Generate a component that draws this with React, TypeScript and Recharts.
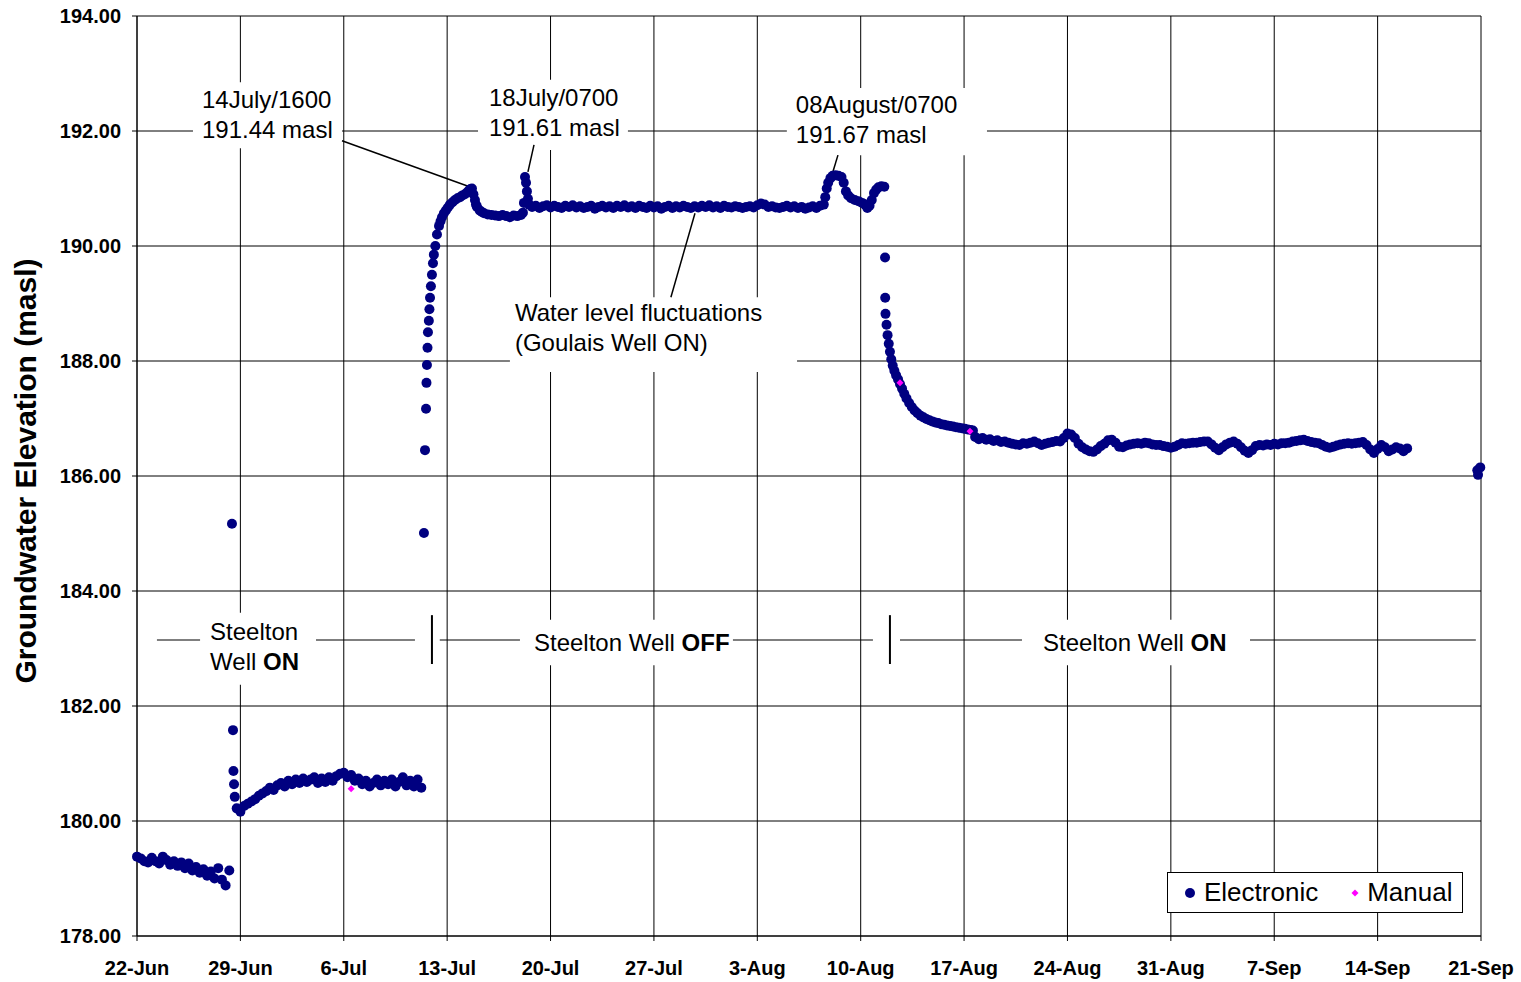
import React from 'react';
import { ScatterChart, Scatter, XAxis, YAxis, CartesianGrid, ReferenceArea, ReferenceLine } from 'recharts';

const FONT = '"Liberation Sans", Arial, Helvetica, sans-serif';

// x = days since 22-Jun
const xTicks = [0, 7, 14, 21, 28, 35, 42, 49, 56, 63, 70, 77, 84, 91];
const xTickLabels = ['22-Jun', '29-Jun', '6-Jul', '13-Jul', '20-Jul', '27-Jul', '3-Aug', '10-Aug', '17-Aug', '24-Aug', '31-Aug', '7-Sep', '14-Sep', '21-Sep'];
const yTicks = [178, 180, 182, 184, 186, 188, 190, 192, 194];

// logger readings, one every 6 hours
const STEP = 0.25;

const lateJune = {
  start: 0,
  values: [179.38, 179.35, 179.30, 179.28, 179.36, 179.30, 179.26, 179.38, 179.32, 179.24,
    179.30, 179.22, 179.28, 179.18, 179.26, 179.14, 179.20, 179.10, 179.16, 179.05,
    179.12, 179.00, 179.18, 178.98, 178.88, 179.14],
};

const earlyJuly = {
  start: 6.75,
  values: [180.22, 180.16, 180.26, 180.30, 180.34, 180.38, 180.44, 180.48, 180.52, 180.58,
    180.54, 180.62, 180.66, 180.60, 180.70, 180.64, 180.72, 180.66, 180.74, 180.68,
    180.72, 180.76, 180.66, 180.74, 180.68, 180.76, 180.70, 180.78, 180.82, 180.84,
    180.76, 180.80, 180.70, 180.74, 180.64, 180.70, 180.60, 180.66, 180.72, 180.62,
    180.70, 180.64, 180.72, 180.60, 180.68, 180.76, 180.62, 180.70, 180.60, 180.72,
    180.58],
};

const lateJuly = {
  start: 26.75,
  values: [190.68, 190.70, 190.66, 190.69, 190.71, 190.67, 190.70, 190.68, 190.66, 190.70,
    190.68, 190.71, 190.67, 190.69, 190.66, 190.68, 190.70, 190.65, 190.68, 190.70,
    190.67, 190.69, 190.66, 190.70, 190.68, 190.71, 190.67, 190.69, 190.66, 190.70,
    190.68, 190.66, 190.70, 190.67, 190.69, 190.65, 190.68, 190.70, 190.66, 190.69,
    190.67, 190.70, 190.68, 190.66, 190.69, 190.67, 190.70, 190.68, 190.71, 190.67,
    190.69, 190.66, 190.70, 190.68, 190.67, 190.69, 190.68, 190.66, 190.68, 190.69,
    190.67, 190.71, 190.74, 190.72, 190.68, 190.69, 190.67, 190.66, 190.68, 190.70,
    190.67, 190.69, 190.66, 190.68, 190.65, 190.67, 190.69, 190.66, 190.70, 190.72],
};

const lateAugust = {
  start: 56.75,
  values: [186.68, 186.64, 186.66, 186.63, 186.64, 186.61, 186.62, 186.59,
    186.60, 186.58, 186.56, 186.55, 186.54, 186.57, 186.56, 186.58,
    186.60, 186.57, 186.54, 186.56, 186.58, 186.59, 186.61, 186.60,
    186.66, 186.74, 186.72, 186.66, 186.56, 186.50, 186.46, 186.43,
    186.42, 186.46, 186.52, 186.56, 186.62, 186.63, 186.58, 186.51,
    186.50, 186.53, 186.55, 186.56, 186.57, 186.56, 186.58, 186.57,
    186.55, 186.54, 186.54, 186.52, 186.51, 186.49, 186.51, 186.54,
    186.57, 186.56, 186.57, 186.58, 186.58, 186.59, 186.60, 186.60,
    186.55, 186.49, 186.45, 186.50, 186.55, 186.58, 186.60, 186.56,
    186.50, 186.44, 186.40, 186.45, 186.52, 186.54, 186.53, 186.55,
    186.54, 186.56, 186.55, 186.57, 186.57, 186.58, 186.60, 186.61,
    186.62, 186.63, 186.61, 186.59, 186.58, 186.57, 186.54, 186.51,
    186.49, 186.51, 186.53, 186.55, 186.56, 186.57, 186.56, 186.57,
    186.58, 186.59, 186.54, 186.46, 186.40, 186.47, 186.54, 186.50,
    186.43, 186.46, 186.50, 186.48, 186.43, 186.48],
};

// irregular stretches: [day, elevation]
const shutdownJune: [number, number][] = [[6.43, 185.17], [6.5, 181.58], [6.53, 180.87], [6.57, 180.64], [6.62, 180.42]];

const recoveryJuly: [number, number][] = [
  [19.43, 185.01], [19.5, 186.45], [19.57, 187.17], [19.6, 187.62], [19.63, 187.93], [19.67, 188.23],
  [19.7, 188.5], [19.76, 188.7], [19.8, 188.9], [19.84, 189.1], [19.9, 189.3], [19.97, 189.5],
  [20.04, 189.7], [20.1, 189.85], [20.2, 190.0], [20.31, 190.2], [20.45, 190.35], [20.55, 190.43],
  [20.65, 190.5], [20.78, 190.57], [20.92, 190.62], [21.05, 190.67], [21.19, 190.72], [21.36, 190.76],
  [21.53, 190.8], [21.7, 190.83], [21.87, 190.85], [22.03, 190.88], [22.2, 190.9], [22.34, 190.93],
  [22.48, 190.97], [22.58, 190.99], [22.68, 191.0], [22.78, 190.9], [22.88, 190.8], [22.95, 190.72],
  [23.02, 190.68], [23.2, 190.62], [23.35, 190.59], [23.5, 190.57], [23.75, 190.55], [24.0, 190.54],
  [24.25, 190.53], [24.5, 190.52], [24.75, 190.54], [25.0, 190.52], [25.25, 190.5], [25.5, 190.53],
  [25.75, 190.52], [26.0, 190.54], [26.13, 190.58], [26.2, 190.75], [26.27, 191.2], [26.34, 191.1],
  [26.4, 190.95], [26.47, 190.82], [26.55, 190.72],
];

const peakAugust: [number, number][] = [
  [46.6, 190.85], [46.7, 191.0], [46.8, 191.1], [46.95, 191.18], [47.1, 191.22], [47.3, 191.23],
  [47.5, 191.22], [47.7, 191.2], [47.85, 191.1], [48.0, 190.95], [48.15, 190.88], [48.35, 190.83],
  [48.6, 190.8], [48.85, 190.78], [49.1, 190.75], [49.3, 190.72], [49.45, 190.66], [49.6, 190.7],
  [49.75, 190.8], [49.9, 190.92], [50.05, 190.98], [50.2, 191.02], [50.4, 191.04], [50.6, 191.03],
];

const drawdownAugust: [number, number][] = [
  [50.65, 189.8], [50.66, 189.1], [50.68, 188.82], [50.75, 188.63], [50.82, 188.45], [50.9, 188.3],
  [50.98, 188.16], [51.07, 188.03], [51.17, 187.92], [51.28, 187.83], [51.4, 187.75], [51.53, 187.68],
  [51.66, 187.6], [51.8, 187.52], [51.95, 187.43], [52.1, 187.35], [52.28, 187.27], [52.46, 187.2],
  [52.65, 187.14], [52.85, 187.09], [53.05, 187.05], [53.25, 187.02], [53.45, 186.99], [53.65, 186.97],
  [53.85, 186.95], [54.05, 186.93], [54.25, 186.92], [54.45, 186.9], [54.65, 186.89], [54.85, 186.88],
  [55.05, 186.87], [55.25, 186.86], [55.45, 186.85], [55.65, 186.84], [55.85, 186.83], [56.05, 186.82],
  [56.25, 186.81], [56.45, 186.8], [56.6, 186.79],
];

const lateSept: [number, number][] = [[90.75, 186.1], [90.8, 186.02], [90.95, 186.15]];

const manualReadings: [number, number][] = [[14.5, 180.56], [51.66, 187.62], [56.4, 186.78]];

const expand = (seg: { start: number; values: number[] }) =>
  seg.values.map((v, i) => ({ day: seg.start + i * STEP, level: v }));
const pairs = (arr: [number, number][]) => arr.map(([d, v]) => ({ day: d, level: v }));

const electronic = [
  ...expand(lateJune), ...pairs(shutdownJune), ...expand(earlyJuly), ...pairs(recoveryJuly),
  ...expand(lateJuly), ...pairs(peakAugust), ...pairs(drawdownAugust), ...expand(lateAugust), ...pairs(lateSept),
];
const manual = pairs(manualReadings);

// text boxes (white, they hide the grid under them)
type Part = { t: string; b?: boolean };
const notes: { x1: number; x2: number; y1: number; y2: number; pad: number; top: number; lines: Part[][] }[] = [
  { x1: 3.79, x2: 13.88, y1: 191.70, y2: 192.85, pad: 9, top: 17, lines: [[{ t: '14July/1600' }], [{ t: '191.44 masl' }]] },
  { x1: 23.09, x2: 33.24, y1: 191.67, y2: 192.89, pad: 11, top: 18, lines: [[{ t: '18July/0700' }], [{ t: '191.61 masl' }]] },
  { x1: 44.0, x2: 57.55, y1: 191.58, y2: 192.75, pad: 9, top: 17, lines: [[{ t: '08August/0700' }], [{ t: '191.67 masl' }]] },
  { x1: 25.25, x2: 44.69, y1: 187.81, y2: 189.11, pad: 5, top: 15, lines: [[{ t: 'Water level fluctuations' }], [{ t: '(Goulais Well ON)' }]] },
  { x1: 4.27, x2: 12.12, y1: 182.37, y2: 183.62, pad: 10, top: 19, lines: [[{ t: 'Steelton' }], [{ t: 'Well ' }, { t: 'ON', b: true }]] },
  { x1: 25.93, x2: 40.35, y1: 182.71, y2: 183.5, pad: 14, top: 23, lines: [[{ t: 'Steelton Well ' }, { t: 'OFF', b: true }]] },
  { x1: 59.92, x2: 75.36, y1: 182.71, y2: 183.5, pad: 21, top: 23, lines: [[{ t: 'Steelton Well ' }, { t: 'ON', b: true }]] },
];

const PUMP_Y = 183.148;
const segments: { x1: number; y1: number; x2: number; y2: number; w: number }[] = [
  { x1: 13.88, y1: 191.83, x2: 22.75, y2: 191.01, w: 1.5 },
  { x1: 26.88, y1: 191.76, x2: 26.47, y2: 191.29, w: 1.5 },
  { x1: 47.46, y1: 191.58, x2: 47.12, y2: 191.29, w: 1.5 },
  { x1: 37.78, y1: 190.57, x2: 36.15, y2: 189.11, w: 1.5 },
  { x1: 1.35, y1: PUMP_Y, x2: 4.27, y2: PUMP_Y, w: 1.2 },
  { x1: 12.12, y1: PUMP_Y, x2: 18.82, y2: PUMP_Y, w: 1.2 },
  { x1: 20.5, y1: PUMP_Y, x2: 25.93, y2: PUMP_Y, w: 1.2 },
  { x1: 40.35, y1: PUMP_Y, x2: 49.83, y2: PUMP_Y, w: 1.2 },
  { x1: 51.66, y1: PUMP_Y, x2: 59.92, y2: PUMP_Y, w: 1.2 },
  { x1: 75.36, y1: PUMP_Y, x2: 90.65, y2: PUMP_Y, w: 1.2 },
  { x1: 19.97, y1: 183.58, x2: 19.97, y2: 182.73, w: 2 },
  { x1: 50.98, y1: 183.58, x2: 50.98, y2: 182.73, w: 2 },
];

const NavyDot = (p: any) => <circle cx={p.cx} cy={p.cy} r={5} fill="#000080" />;
const PinkDiamond = (p: any) => (
  <polygon points={`${p.cx},${p.cy - 3.5} ${p.cx + 3.5},${p.cy} ${p.cx},${p.cy + 3.5} ${p.cx - 3.5},${p.cy}`} fill="#ff00ff" />
);

const noteLabel = (lines: Part[][], pad: number, top: number) => (props: any) => {
  const vb = props.viewBox;
  return (
    <text fontFamily={FONT} fontSize={24} fill="#000">
      {lines.map((ln, i) => (
        <tspan key={i} x={vb.x + pad} y={vb.y + top + i * 30 + 8.5}>
          {ln.map((part, j) => (
            <tspan key={j} fontWeight={part.b ? 'bold' : 'normal'}>{part.t}</tspan>
          ))}
        </tspan>
      ))}
    </text>
  );
};

const tickStyle = { fill: '#000', fontSize: 20, fontWeight: 'bold', fontFamily: FONT };

export default function App() {
  return (
    <div style={{ position: 'absolute', left: 0, top: 0, width: 1521, height: 982, background: '#fff', fontFamily: FONT }}>
      <ScatterChart width={1521} height={982} margin={{ top: 16, right: 40, bottom: 0, left: 0 }}>
        <CartesianGrid stroke="#000" strokeWidth={1} />
        <XAxis
          dataKey="day" type="number" domain={[0, 91]} ticks={xTicks} interval={0}
          tickFormatter={(v: number) => xTickLabels[xTicks.indexOf(v)]}
          tick={tickStyle} tickSize={5} tickMargin={20} height={46}
          axisLine={{ stroke: '#000' }} tickLine={{ stroke: '#000' }}
        />
        <YAxis
          dataKey="level" type="number" domain={[178, 194]} ticks={yTicks} interval={0}
          tickFormatter={(v: number) => v.toFixed(2)}
          tick={tickStyle} tickSize={5} tickMargin={11} width={137}
          axisLine={{ stroke: '#000' }} tickLine={{ stroke: '#000' }}
          label={(props: any) => {
            const vb = props.viewBox;
            const cx = 25;
            const cy = vb.y + vb.height / 2 - 5;
            return (
              <text x={cx} y={cy} transform={`rotate(-90 ${cx} ${cy})`} textAnchor="middle" dominantBaseline="central"
                fontFamily={FONT} fontSize={30} fontWeight="bold" fill="#000">
                Groundwater Elevation (masl)
              </text>
            );
          }}
        />
        {notes.map((n, i) => (
          <ReferenceArea key={'n' + i} x1={n.x1} x2={n.x2} y1={n.y1} y2={n.y2} fill="#fff" fillOpacity={1}
            stroke="none" ifOverflow="visible" label={noteLabel(n.lines, n.pad, n.top)} />
        ))}
        {segments.map((s, i) => (
          <ReferenceLine key={'s' + i} segment={[{ x: s.x1, y: s.y1 }, { x: s.x2, y: s.y2 }]}
            stroke="#000" strokeWidth={s.w} ifOverflow="visible" />
        ))}
        <Scatter name="Electronic" data={electronic} shape={NavyDot} isAnimationActive={false} />
        <Scatter name="Manual" data={manual} shape={PinkDiamond} isAnimationActive={false} />
      </ScatterChart>
      <div style={{
        position: 'absolute', left: 1167, top: 872, width: 294, height: 39, border: '1px solid #000',
        background: '#fff', display: 'flex', alignItems: 'center', fontSize: 26, color: '#000',
      }}>
        <svg width={12} height={12} style={{ marginLeft: 16 }}><circle cx={6} cy={6} r={5} fill="#000080" /></svg>
        <span style={{ marginLeft: 8 }}>Electronic</span>
        <svg width={8} height={8} style={{ marginLeft: 33 }}><polygon points="4,0.5 7.5,4 4,7.5 0.5,4" fill="#ff00ff" /></svg>
        <span style={{ marginLeft: 8 }}>Manual</span>
      </div>
    </div>
  );
}
